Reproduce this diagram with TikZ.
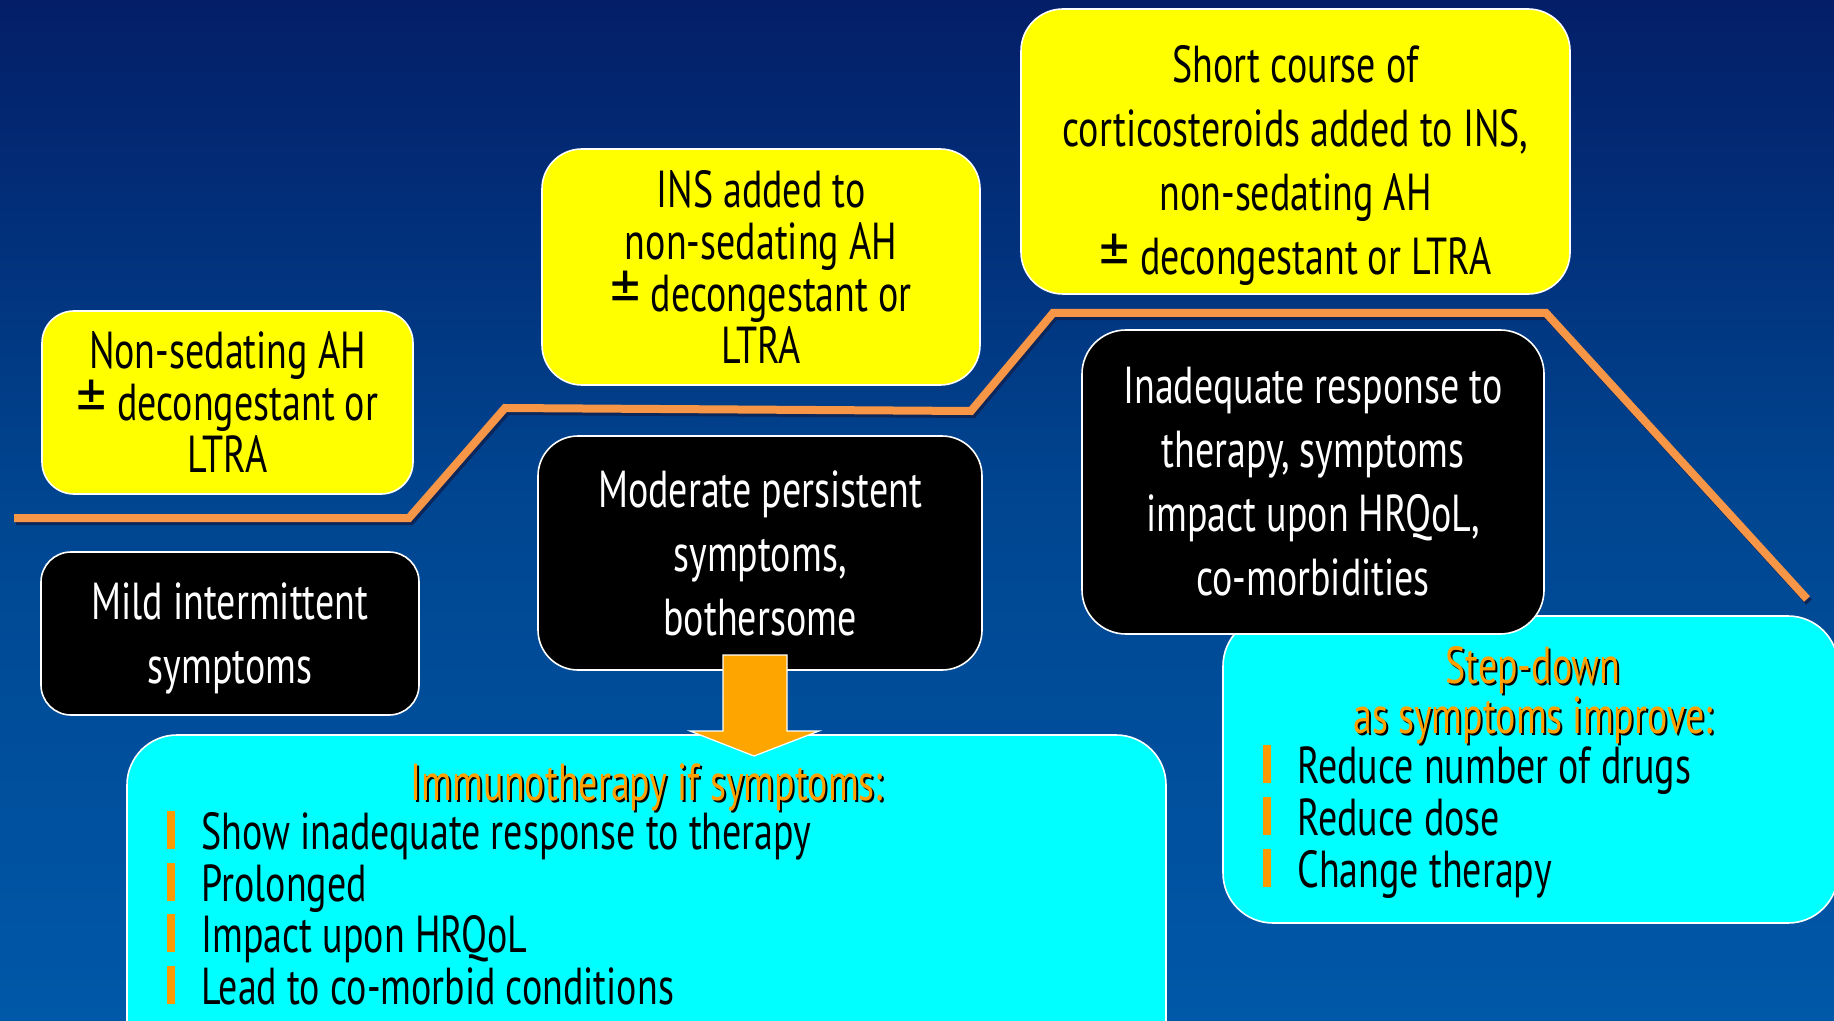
\documentclass[tikz,border=0pt]{standalone}
\usepackage{fontspec}
\setmainfont[FakeStretch=0.73]{PT Sans}
\newfontfamily\pmfont{PT Sans}
\newcommand{\plusminus}{{\pmfont\fontsize{30}{26}\selectfont ±}}
\definecolor{bgtop}{RGB}{4,30,104}
\definecolor{bgmid}{RGB}{0,70,145}
\definecolor{bgbot}{RGB}{0,88,168}
\definecolor{boxyel}{RGB}{255,255,0}
\definecolor{boxcyan}{RGB}{0,255,255}
\definecolor{stepline}{RGB}{247,150,70}
\definecolor{stepshadow}{RGB}{10,38,90}
\definecolor{arrowor}{RGB}{255,165,0}
\definecolor{heador}{RGB}{255,160,0}
\definecolor{bulor}{RGB}{255,153,0}
\newcommand{\bulbar}{\textcolor{bulor}{\rule{4pt}{19pt}}\hspace{13pt}}
\begin{document}
\begin{tikzpicture}[x=0.5pt,y=-0.5pt,
  every node/.style={font=\fontsize{26}{26}\selectfont, inner sep=0pt},
  ybox/.style={fill=boxyel, draw=white, line width=0.8pt, align=center, text=black},
  bbox/.style={fill=black, draw=white, line width=0.8pt, align=center, text=white, font=\fontsize{26}{32}\selectfont},
  cbox/.style={fill=boxcyan, draw=white, line width=0.8pt},
  steppath/.style={line width=4pt, color=stepline, line join=miter},
  stepshade/.style={line width=4pt, color=stepshadow, line join=miter},
  headtxt/.style={text=heador, anchor=base},
  headshadow/.style={text=black, anchor=base},
  bultxt/.style={text=black, anchor=base west},
  blockarrow/.style={fill=arrowor, draw=white, line width=0.6pt}
]
\useasboundingbox (0,0) rectangle (1834,1021);
\clip (0,0) rectangle (1834,1021);
\shade[top color=bgtop, bottom color=bgbot, middle color=bgmid] (0,0) rectangle (1834,1021);

% step line
\coordinate (p0) at (14,518);
\coordinate (p1) at (409,518);
\coordinate (p2) at (505,408);
\coordinate (p3) at (971,411);
\coordinate (p4) at (1053,313);
\coordinate (p5) at (1546,313);
\coordinate (p6) at (1807,599);
\draw[stepshade, transform canvas={shift={(1pt,-1.5pt)}}] (p0) -- (p1) -- (p2) -- (p3) -- (p4) -- (p5) -- (p6);
\draw[steppath] (p0) -- (p1) -- (p2) -- (p3) -- (p4) -- (p5) -- (p6);

% cyan boxes
\node[cbox, rounded corners=25pt, minimum width=307.5pt, minimum height=153.5pt] (c2) at (1530.5,769.5) {};
\node[cbox, rounded corners=25pt, minimum width=519.5pt, minimum height=172.5pt] (c1) at (646.5,907.5) {};

% yellow boxes
\node[ybox, rounded corners=16pt, minimum width=185.5pt, minimum height=91.5pt] (y1) at (227.5,402.5)
  {Non-sedating AH\\ \plusminus{} decongestant or\\ LTRA};
\node[ybox, rounded corners=20pt, minimum width=219pt, minimum height=118pt] (y2) at (761,267)
  {INS added to\\ non-sedating AH\\ \plusminus{} decongestant or\\ LTRA};
\node[ybox, rounded corners=21pt, minimum width=274.5pt, minimum height=142.5pt] (y3) at (1295.5,151.5) {};
\node[align=center, text=black, font=\fontsize{26}{32}\selectfont] (y3t) at (1295.5,166)
  {Short course of\\ corticosteroids added to INS,\\ non-sedating AH\\ \plusminus{} decongestant or LTRA};

% black boxes
\node[bbox, rounded corners=15pt, minimum width=189pt, minimum height=81.5pt] (b1) at (230,633.5) {};
\node[align=center, text=white, font=\fontsize{26}{32}\selectfont] (b1t) at (230,638)
  {Mild intermittent\\ symptoms};
\node[bbox, rounded corners=20pt, minimum width=222pt, minimum height=117pt] (b2) at (760,553)
  {Moderate persistent\\ symptoms,\\ bothersome};
\node[bbox, rounded corners=22pt, minimum width=231pt, minimum height=152pt] (b3) at (1313,482)
  {Inadequate response to\\ therapy, symptoms\\ impact upon HRQoL,\\ co-morbidities};

% block arrow
\coordinate (a1) at (723,655);
\coordinate (a2) at (787,655);
\coordinate (a3) at (787,731);
\coordinate (a4) at (819,731);
\coordinate (a5) at (754,756);
\coordinate (a6) at (690,731);
\coordinate (a7) at (723,731);
\draw[blockarrow] (a1) -- (a2) -- (a3) -- (a4) -- (a5) -- (a6) -- (a7) -- cycle;

% immunotherapy box text
\node[headshadow] (c1hs) at (649,802) {Immunotherapy if symptoms:};
\node[headtxt] (c1h) at (647,800) {Immunotherapy if symptoms:};
\node[bultxt] (c1b1) at (167,849) {\bulbar Show inadequate response to therapy};
\node[bultxt] (c1b2) at (167,901) {\bulbar Prolonged};
\node[bultxt] (c1b3) at (167,952) {\bulbar Impact upon HRQoL};
\node[bultxt] (c1b4) at (167,1004) {\bulbar Lead to co-morbid conditions};

% step-down box text
\node[headshadow] (c2hs1) at (1535,685) {Step-down};
\node[headtxt] (c2h1) at (1533,683) {Step-down};
\node[headshadow] (c2hs2) at (1535,735) {as symptoms improve:};
\node[headtxt] (c2h2) at (1533,733) {as symptoms improve:};
\node[bultxt] (c2b1) at (1263,783) {\bulbar Reduce number of drugs};
\node[bultxt] (c2b2) at (1263,835) {\bulbar Reduce dose};
\node[bultxt] (c2b3) at (1263,887) {\bulbar Change therapy};
\end{tikzpicture}
\end{document}
